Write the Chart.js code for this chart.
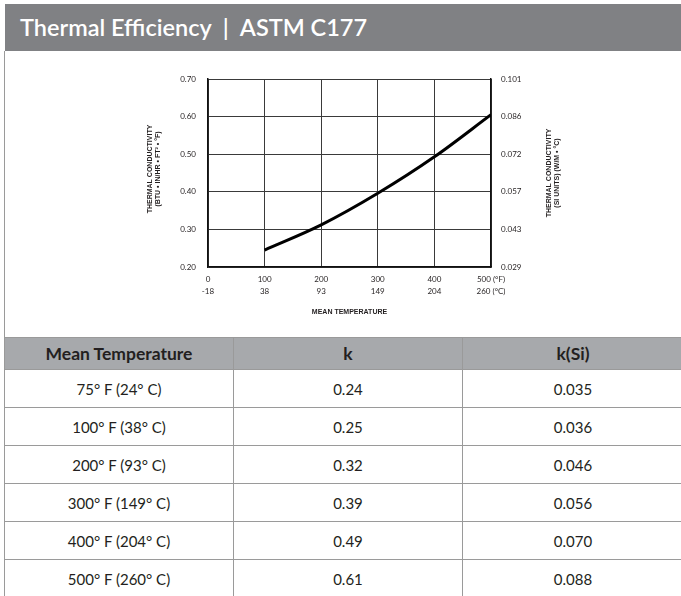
<!DOCTYPE html>
<html>
<head>
<meta charset="utf-8">
<script src="https://cdn.jsdelivr.net/npm/chart.js@4/dist/chart.umd.min.js"></script>
<style>
  body { margin: 0; background: #fff; font-family: Lato, "Noto Sans", sans-serif; }
  #page { position: relative; width: 681px; height: 596px; overflow: hidden; }
  #head { position: absolute; left: 5px; top: 4px; width: 676px; height: 47px; background: #808184;
          color: #fff; font-size: 23.5px; font-weight: 600; line-height: 47px; padding-left: 15px; box-sizing: border-box; white-space: pre; }
  #leftline { position: absolute; left: 4px; top: 51px; width: 1px; height: 545px; background: #9a9a9a; }
  #chartbox { position: absolute; left: 0; top: 0; width: 681px; height: 337px; }
  table { position: absolute; left: 4px; top: 337px; border-collapse: collapse; width: 680px; }
  th, td { border: 1px solid #9a9a9a; text-align: center; color: #231f20; padding: 0; }
  th { background: #a7a9ac; height: 31px; font-size: 17.5px; font-weight: 700; }
  td { height: 37px; font-size: 15px; }
</style>
</head>
<body>
<div id="page">
  <div id="head">Thermal Efficiency  |  ASTM C177</div>
  <div id="chartbox"><canvas id="thermChart"></canvas></div>
  <table id="tbl">
    <thead><tr><th style="width:228px">Mean Temperature</th><th style="width:228px">k</th><th>k(Si)</th></tr></thead>
    <tbody></tbody>
  </table>
  <div id="leftline"></div>
</div>
<script>
  // table values
  const tempF = [75, 100, 200, 300, 400, 500];
  const tempC = [24, 38, 93, 149, 204, 260];
  const kVals = ['0.24', '0.25', '0.32', '0.39', '0.49', '0.61'];
  const kSiVals = ['0.035', '0.036', '0.046', '0.056', '0.070', '0.088'];

  // curve
  const curveTemps = [100, 200, 300, 400, 500];
  const curveK = [0.245, 0.312, 0.396, 0.493, 0.605];

  // tick labels
  const xTicksF = ['0', '100', '200', '300', '400', '500 (°F)'];
  const xTicksC = ['-18', '38', '93', '149', '204', '260 (°C)'];
  const siTicks = ['0.029', '0.043', '0.057', '0.072', '0.086', '0.101'];

  const tbody = document.querySelector('#tbl tbody');
  tempF.forEach(function (f, i) {
    const tr = document.createElement('tr');
    tr.innerHTML = '<td>' + f + '° F (' + tempC[i] + '° C)</td><td>' + kVals[i] + '</td><td>' + kSiVals[i] + '</td>';
    tbody.appendChild(tr);
  });

  const tickFont = { family: 'Lato, "Noto Sans", sans-serif', size: 8 };

  // axis titles (both read bottom-to-top, so drawn by hand)
  const axisTitles = {
    id: 'axisTitles',
    afterDraw(chart) {
      const c = chart.ctx, a = chart.chartArea;
      const midY = (a.top + a.bottom) / 2;
      c.save();
      c.fillStyle = '#231f20';
      c.font = 'bold 7px "Liberation Sans", sans-serif';
      c.textAlign = 'center';
      c.textBaseline = 'middle';
      c.fillText('MEAN TEMPERATURE', (a.left + a.right) / 2, 312);
      const titles = [
        [150, midY - 4, ['THERMAL CONDUCTIVITY', '(BTU • IN/HR • FT² • °F)']],
        [549, midY, ['THERMAL CONDUCTIVITY', '(SI UNITS) (W/M • °C)']]
      ];
      titles.forEach(function (t) {
        c.save();
        c.translate(t[0], t[1]);
        c.rotate(-Math.PI / 2);
        c.fillText(t[2][0], 0, 0);
        c.fillText(t[2][1], 0, 8);
        c.restore();
      });
      c.restore();
    }
  };

  const ctx = document.getElementById('thermChart');
  new Chart(ctx, {
    type: 'line',
    data: {
      datasets: [{
        data: curveTemps.map(function (t, i) { return { x: t, y: curveK[i] }; }),
        borderColor: '#000',
        borderWidth: 3,
        pointRadius: 0,
        cubicInterpolationMode: 'monotone',
        fill: false
      }]
    },
    options: {
      responsive: true,
      maintainAspectRatio: false,
      animation: false,
      layout: { padding: { top: 79, left: 0, right: 0, bottom: 0 } },
      plugins: { legend: { display: false }, tooltip: { enabled: false } },
      scales: {
        x: {
          type: 'linear', min: 0, max: 500,
          afterFit: function (s) { s.height = 70; },
          ticks: {
            stepSize: 100, color: '#231f20', font: Object.assign({ lineHeight: 1.5 }, tickFont), padding: 6, maxRotation: 0,
            callback: function (v, i) { return [xTicksF[i], xTicksC[i]]; }
          },
          grid: { color: '#3a3a3a', lineWidth: 1, drawTicks: false },
          border: { color: '#111', width: 1.5 }
        },
        y: {
          type: 'linear', position: 'left', min: 0.2, max: 0.7,
          afterFit: function (s) { s.width = 208; },
          ticks: {
            stepSize: 0.1, color: '#231f20', font: tickFont, padding: 12,
            callback: function (v) { return v.toFixed(2); }
          },
          grid: { color: '#3a3a3a', lineWidth: 1, drawTicks: false },
          border: { color: '#111', width: 1.5 }
        },
        ySi: {
          type: 'linear', position: 'right', min: 0.2, max: 0.7,
          afterFit: function (s) { s.width = 190; },
          ticks: {
            stepSize: 0.1, color: '#231f20', font: tickFont, padding: 10,
            callback: function (v, i) { return siTicks[i]; }
          },
          grid: { display: false, drawTicks: false },
          border: { color: '#111', width: 1.5 }
        }
      }
    },
    plugins: [axisTitles]
  });
</script>
</body>
</html>
